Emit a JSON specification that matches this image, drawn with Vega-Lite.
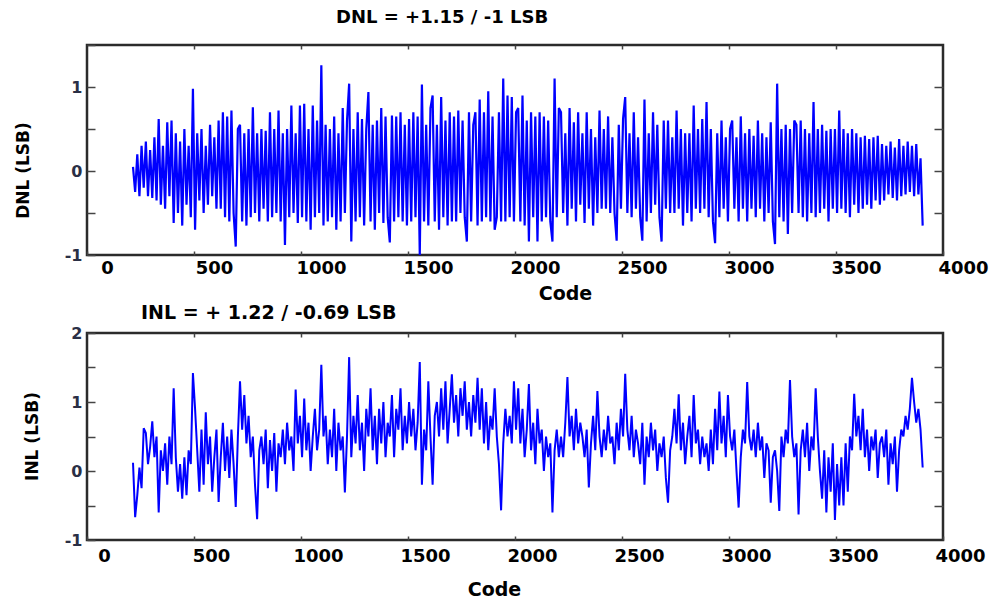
{
"$schema": "https://vega.github.io/schema/vega-lite/v6.json",
"padding": {"left": 12, "top": 8, "right": 4, "bottom": 0},
"spacing": -3,
"config": {
  "font": "DejaVu Sans",
  "view": {"stroke": "#2b2b2b", "strokeWidth": 2.5},
  "axis": {"grid": false, "domain": false, "minExtent": 0, "tickColor": "#444", "tickWidth": 1.5, "labelFont": "DejaVu Sans", "labelFontWeight": "bold", "labelColor": "#000", "titleFont": "DejaVu Sans", "titleFontWeight": "bold", "titleColor": "#000"},
  "title": {"font": "DejaVu Sans", "fontWeight": "bold", "color": "#000"}
},
"datasets": {"adc": [
{"c":215,"d":0.05,"i":0.12},{"c":225,"d":-0.25,"i":-0.67},{"c":235,"d":0.2,"i":-0.35},{"c":245,"d":-0.3,"i":0.05},{"c":255,"d":0.3,"i":-0.25},{"c":265,"d":-0.2,"i":0.62},{"c":275,"d":0.35,"i":0.55},{"c":285,"d":-0.3,"i":0.1},{"c":295,"d":0.25,"i":0.35},{"c":305,"d":-0.32,"i":0.72},
{"c":315,"d":0.4,"i":0.2},{"c":325,"d":-0.35,"i":0.5},{"c":335,"d":0.62,"i":-0.6},{"c":345,"d":-0.4,"i":0.3},{"c":355,"d":0.3,"i":0.0},{"c":365,"d":-0.45,"i":0.4},{"c":375,"d":0.58,"i":-0.2},{"c":385,"d":-0.3,"i":0.5},{"c":395,"d":0.6,"i":0.1},{"c":405,"d":-0.62,"i":1.2},
{"c":415,"d":0.45,"i":0.2},{"c":425,"d":-0.5,"i":-0.3},{"c":435,"d":0.35,"i":0.1},{"c":445,"d":-0.65,"i":-0.4},{"c":455,"d":0.5,"i":0.2},{"c":465,"d":-0.4,"i":-0.35},{"c":475,"d":0.3,"i":0.3},{"c":485,"d":-0.55,"i":0.1},{"c":495,"d":0.98,"i":1.42},{"c":505,"d":-0.7,"i":0.9},
{"c":515,"d":0.45,"i":0.3},{"c":525,"d":-0.35,"i":-0.3},{"c":535,"d":0.5,"i":0.6},{"c":545,"d":-0.5,"i":-0.2},{"c":555,"d":0.3,"i":0.85},{"c":565,"d":-0.4,"i":0.1},{"c":575,"d":0.55,"i":0.5},{"c":585,"d":-0.3,"i":-0.3},{"c":595,"d":0.4,"i":0.2},{"c":605,"d":-0.45,"i":0.6},
{"c":615,"d":0.6,"i":-0.45},{"c":625,"d":-0.45,"i":0.2},{"c":635,"d":0.7,"i":0.7},{"c":645,"d":-0.55,"i":0.0},{"c":655,"d":0.65,"i":0.5},{"c":665,"d":-0.6,"i":-0.1},{"c":675,"d":0.72,"i":0.6},{"c":685,"d":-0.5,"i":0.1},{"c":695,"d":-0.9,"i":-0.52},{"c":705,"d":0.5,"i":0.5},
{"c":715,"d":0.55,"i":1.3},{"c":725,"d":-0.6,"i":0.6},{"c":735,"d":0.45,"i":1.1},{"c":745,"d":-0.65,"i":0.4},{"c":755,"d":0.5,"i":0.8},{"c":765,"d":-0.55,"i":0.2},{"c":775,"d":0.76,"i":0.5},{"c":785,"d":-0.5,"i":-0.2},{"c":795,"d":0.45,"i":-0.7},{"c":805,"d":-0.6,"i":0.3},
{"c":815,"d":0.5,"i":0.5},{"c":825,"d":-0.45,"i":0.1},{"c":835,"d":0.48,"i":0.6},{"c":845,"d":-0.6,"i":-0.25},{"c":855,"d":0.7,"i":0.45},{"c":865,"d":-0.55,"i":0.0},{"c":875,"d":0.5,"i":0.55},{"c":885,"d":-0.5,"i":-0.3},{"c":895,"d":0.72,"i":0.4},{"c":905,"d":-0.6,"i":0.2},
{"c":915,"d":0.45,"i":0.6},{"c":925,"d":-0.88,"i":0.1},{"c":935,"d":0.5,"i":0.7},{"c":945,"d":-0.55,"i":0.3},{"c":955,"d":0.78,"i":0.5},{"c":965,"d":-0.5,"i":0.0},{"c":975,"d":0.45,"i":1.18},{"c":985,"d":-0.62,"i":0.4},{"c":995,"d":0.78,"i":0.8},{"c":1005,"d":-0.55,"i":0.2},
{"c":1015,"d":0.8,"i":1.05},{"c":1025,"d":-0.6,"i":0.3},{"c":1035,"d":0.5,"i":0.7},{"c":1045,"d":-0.7,"i":0.0},{"c":1055,"d":0.78,"i":0.5},{"c":1065,"d":-0.55,"i":0.9},{"c":1075,"d":0.6,"i":0.3},{"c":1085,"d":-0.5,"i":0.6},{"c":1095,"d":1.26,"i":1.54},{"c":1105,"d":-0.65,"i":0.5},
{"c":1115,"d":0.55,"i":0.8},{"c":1125,"d":-0.6,"i":0.1},{"c":1135,"d":0.5,"i":0.6},{"c":1145,"d":-0.55,"i":0.2},{"c":1155,"d":0.65,"i":0.9},{"c":1165,"d":-0.7,"i":0.0},{"c":1175,"d":0.45,"i":0.7},{"c":1185,"d":-0.6,"i":0.3},{"c":1195,"d":0.75,"i":0.5},{"c":1205,"d":-0.5,"i":-0.31},
{"c":1215,"d":0.6,"i":0.5},{"c":1225,"d":1.04,"i":1.65},{"c":1235,"d":-0.84,"i":0.2},{"c":1245,"d":0.5,"i":0.8},{"c":1255,"d":-0.6,"i":0.4},{"c":1265,"d":0.7,"i":1.1},{"c":1275,"d":-0.55,"i":0.3},{"c":1285,"d":0.62,"i":0.7},{"c":1295,"d":-0.65,"i":0.0},{"c":1305,"d":0.5,"i":0.9},
{"c":1315,"d":0.94,"i":0.5},{"c":1325,"d":-0.6,"i":1.2},{"c":1335,"d":0.55,"i":0.3},{"c":1345,"d":-0.7,"i":0.8},{"c":1355,"d":0.6,"i":0.1},{"c":1365,"d":-0.5,"i":0.9},{"c":1375,"d":0.75,"i":0.4},{"c":1385,"d":-0.62,"i":1.0},{"c":1395,"d":0.65,"i":0.2},{"c":1405,"d":-0.55,"i":0.7},
{"c":1415,"d":-0.85,"i":0.5},{"c":1425,"d":0.66,"i":1.1},{"c":1435,"d":-0.6,"i":0.2},{"c":1445,"d":0.65,"i":0.9},{"c":1455,"d":-0.55,"i":0.6},{"c":1465,"d":0.7,"i":1.2},{"c":1475,"d":-0.6,"i":0.3},{"c":1485,"d":0.55,"i":0.8},{"c":1495,"d":-0.65,"i":0.4},{"c":1505,"d":0.62,"i":1.0},
{"c":1515,"d":-0.6,"i":0.5},{"c":1525,"d":0.7,"i":0.9},{"c":1535,"d":-0.55,"i":0.3},{"c":1545,"d":0.65,"i":0.7},{"c":1555,"d":-1.0,"i":1.58},{"c":1565,"d":1.03,"i":-0.2},{"c":1575,"d":-0.6,"i":0.6},{"c":1585,"d":0.55,"i":0.3},{"c":1595,"d":-0.65,"i":1.3},{"c":1605,"d":0.75,"i":0.5},
{"c":1615,"d":0.9,"i":-0.2},{"c":1625,"d":-0.6,"i":0.8},{"c":1635,"d":0.55,"i":1.0},{"c":1645,"d":-0.7,"i":0.5},{"c":1655,"d":0.88,"i":1.2},{"c":1665,"d":-0.55,"i":0.6},{"c":1675,"d":0.6,"i":1.3},{"c":1685,"d":-0.65,"i":0.4},{"c":1695,"d":0.7,"i":0.9},{"c":1705,"d":-0.6,"i":1.4},
{"c":1715,"d":0.65,"i":0.7},{"c":1725,"d":-0.6,"i":1.1},{"c":1735,"d":0.72,"i":0.5},{"c":1745,"d":-0.5,"i":1.2},{"c":1755,"d":0.6,"i":0.8},{"c":1765,"d":-0.55,"i":1.3},{"c":1775,"d":-0.84,"i":0.6},{"c":1785,"d":0.7,"i":1.0},{"c":1795,"d":-0.6,"i":0.5},{"c":1805,"d":0.55,"i":1.1},
{"c":1815,"d":0.7,"i":0.7},{"c":1825,"d":-0.65,"i":1.35},{"c":1835,"d":0.85,"i":0.6},{"c":1845,"d":-0.6,"i":1.2},{"c":1855,"d":0.7,"i":0.4},{"c":1865,"d":-0.55,"i":1.0},{"c":1875,"d":0.95,"i":0.3},{"c":1885,"d":-0.6,"i":0.8},{"c":1895,"d":0.65,"i":0.6},{"c":1905,"d":-0.7,"i":1.2},
{"c":1915,"d":-0.55,"i":0.5},{"c":1925,"d":0.7,"i":0.1},{"c":1935,"d":-0.6,"i":-0.57},{"c":1945,"d":1.1,"i":0.4},{"c":1955,"d":-0.6,"i":0.9},{"c":1965,"d":0.9,"i":0.5},{"c":1975,"d":-0.55,"i":0.8},{"c":1985,"d":0.88,"i":0.4},{"c":1995,"d":-0.6,"i":1.3},{"c":2005,"d":0.7,"i":0.6},
{"c":2015,"d":0.75,"i":1.2},{"c":2025,"d":-0.6,"i":0.4},{"c":2035,"d":0.9,"i":0.9},{"c":2045,"d":-0.65,"i":0.2},{"c":2055,"d":0.6,"i":0.6},{"c":2065,"d":-0.84,"i":1.26},{"c":2075,"d":0.7,"i":0.3},{"c":2085,"d":-0.55,"i":0.7},{"c":2095,"d":0.65,"i":0.1},{"c":2105,"d":-0.84,"i":0.9},
{"c":2115,"d":0.7,"i":0.4},{"c":2125,"d":-0.6,"i":0.6},{"c":2135,"d":0.65,"i":0.0},{"c":2145,"d":-0.55,"i":0.5},{"c":2155,"d":0.6,"i":0.2},{"c":2165,"d":-0.6,"i":0.4},{"c":2175,"d":-0.84,"i":-0.6},{"c":2185,"d":1.1,"i":0.3},{"c":2195,"d":-0.55,"i":0.6},{"c":2205,"d":0.75,"i":0.2},
{"c":2215,"d":0.7,"i":0.5},{"c":2225,"d":-0.5,"i":0.2},{"c":2235,"d":0.45,"i":0.7},{"c":2245,"d":-0.65,"i":1.36},{"c":2255,"d":0.75,"i":0.5},{"c":2265,"d":-0.45,"i":0.8},{"c":2275,"d":0.58,"i":0.3},{"c":2285,"d":-0.6,"i":0.9},{"c":2295,"d":0.7,"i":0.4},{"c":2305,"d":-0.4,"i":0.7},
{"c":2315,"d":0.45,"i":0.5},{"c":2325,"d":-0.62,"i":0.2},{"c":2335,"d":0.7,"i":0.6},{"c":2345,"d":-0.45,"i":-0.24},{"c":2355,"d":0.5,"i":0.4},{"c":2365,"d":-0.65,"i":0.8},{"c":2375,"d":0.4,"i":0.3},{"c":2385,"d":-0.5,"i":1.16},{"c":2395,"d":0.72,"i":0.5},{"c":2405,"d":-0.45,"i":0.2},
{"c":2415,"d":0.5,"i":0.6},{"c":2425,"d":-0.45,"i":0.3},{"c":2435,"d":0.65,"i":0.8},{"c":2445,"d":-0.5,"i":0.4},{"c":2455,"d":0.4,"i":0.5},{"c":2465,"d":-0.5,"i":0.1},{"c":2475,"d":-0.83,"i":0.7},{"c":2485,"d":0.55,"i":0.3},{"c":2495,"d":-0.45,"i":0.9},{"c":2505,"d":0.62,"i":0.5},
{"c":2515,"d":0.88,"i":1.41},{"c":2525,"d":-0.5,"i":0.6},{"c":2535,"d":0.45,"i":0.3},{"c":2545,"d":-0.55,"i":0.8},{"c":2555,"d":0.7,"i":0.2},{"c":2565,"d":-0.45,"i":0.6},{"c":2575,"d":0.4,"i":0.4},{"c":2585,"d":-0.55,"i":0.1},{"c":2595,"d":-0.83,"i":0.7},{"c":2605,"d":0.85,"i":-0.2},
{"c":2615,"d":-0.6,"i":0.5},{"c":2625,"d":0.45,"i":0.2},{"c":2635,"d":-0.5,"i":0.7},{"c":2645,"d":0.7,"i":0.3},{"c":2655,"d":-0.4,"i":0.6},{"c":2665,"d":0.55,"i":0.0},{"c":2675,"d":-0.55,"i":0.4},{"c":2685,"d":-0.84,"i":0.2},{"c":2695,"d":0.6,"i":0.5},{"c":2705,"d":-0.45,"i":-0.1},
{"c":2715,"d":0.6,"i":-0.46},{"c":2725,"d":-0.5,"i":0.3},{"c":2735,"d":0.4,"i":0.5},{"c":2745,"d":-0.5,"i":0.9},{"c":2755,"d":0.72,"i":0.4},{"c":2765,"d":-0.45,"i":1.11},{"c":2775,"d":0.5,"i":0.3},{"c":2785,"d":-0.65,"i":0.7},{"c":2795,"d":0.45,"i":0.1},{"c":2805,"d":-0.5,"i":0.5},
{"c":2815,"d":0.45,"i":0.8},{"c":2825,"d":-0.6,"i":0.2},{"c":2835,"d":0.78,"i":1.1},{"c":2845,"d":-0.45,"i":0.4},{"c":2855,"d":0.5,"i":0.6},{"c":2865,"d":-0.5,"i":0.1},{"c":2875,"d":0.62,"i":0.5},{"c":2885,"d":-0.45,"i":0.2},{"c":2895,"d":0.82,"i":0.4},{"c":2905,"d":-0.55,"i":0.0},
{"c":2915,"d":0.5,"i":0.6},{"c":2925,"d":-0.6,"i":0.1},{"c":2935,"d":-0.86,"i":0.9},{"c":2945,"d":0.45,"i":0.3},{"c":2955,"d":-0.55,"i":1.15},{"c":2965,"d":0.6,"i":0.4},{"c":2975,"d":-0.45,"i":0.8},{"c":2985,"d":0.4,"i":0.2},{"c":2995,"d":-0.6,"i":1.1},{"c":3005,"d":0.5,"i":0.5},
{"c":3015,"d":0.6,"i":0.3},{"c":3025,"d":-0.45,"i":0.6},{"c":3035,"d":0.4,"i":0.0},{"c":3045,"d":-0.6,"i":-0.53},{"c":3055,"d":0.65,"i":0.2},{"c":3065,"d":-0.45,"i":0.6},{"c":3075,"d":0.45,"i":0.4},{"c":3085,"d":-0.6,"i":1.29},{"c":3095,"d":0.5,"i":0.5},{"c":3105,"d":-0.45,"i":0.3},
{"c":3115,"d":0.42,"i":0.6},{"c":3125,"d":-0.55,"i":0.2},{"c":3135,"d":0.6,"i":0.7},{"c":3145,"d":-0.45,"i":0.3},{"c":3155,"d":0.45,"i":0.5},{"c":3165,"d":-0.6,"i":-0.1},{"c":3175,"d":0.4,"i":0.4},{"c":3185,"d":-0.5,"i":0.3},{"c":3195,"d":0.58,"i":-0.46},{"c":3205,"d":-0.6,"i":0.2},
{"c":3215,"d":-0.87,"i":0.3},{"c":3225,"d":1.04,"i":0.0},{"c":3235,"d":-0.55,"i":-0.58},{"c":3245,"d":0.5,"i":0.5},{"c":3255,"d":-0.6,"i":0.2},{"c":3265,"d":0.55,"i":0.6},{"c":3275,"d":-0.75,"i":0.4},{"c":3285,"d":0.5,"i":1.32},{"c":3295,"d":-0.5,"i":0.5},{"c":3305,"d":0.6,"i":0.2},
{"c":3315,"d":0.55,"i":0.4},{"c":3325,"d":-0.5,"i":-0.63},{"c":3335,"d":0.6,"i":0.3},{"c":3345,"d":-0.55,"i":0.6},{"c":3355,"d":0.5,"i":0.2},{"c":3365,"d":-0.6,"i":0.7},{"c":3375,"d":0.45,"i":0.0},{"c":3385,"d":-0.5,"i":0.5},{"c":3395,"d":0.82,"i":0.3},{"c":3405,"d":-0.55,"i":1.2},
{"c":3415,"d":0.5,"i":0.5},{"c":3425,"d":-0.5,"i":0.0},{"c":3435,"d":0.55,"i":-0.4},{"c":3445,"d":-0.45,"i":0.3},{"c":3455,"d":0.48,"i":-0.6},{"c":3465,"d":-0.6,"i":0.2},{"c":3475,"d":0.5,"i":-0.3},{"c":3485,"d":-0.45,"i":0.4},{"c":3495,"d":0.5,"i":-0.71},{"c":3505,"d":-0.5,"i":0.1},
{"c":3515,"d":0.72,"i":-0.5},{"c":3525,"d":-0.45,"i":0.2},{"c":3535,"d":0.5,"i":-0.5},{"c":3545,"d":-0.5,"i":0.4},{"c":3555,"d":0.45,"i":-0.3},{"c":3565,"d":-0.55,"i":0.5},{"c":3575,"d":0.5,"i":0.3},{"c":3585,"d":-0.4,"i":1.12},{"c":3595,"d":0.45,"i":0.5},{"c":3605,"d":-0.5,"i":0.8},
{"c":3615,"d":0.4,"i":0.3},{"c":3625,"d":-0.45,"i":0.9},{"c":3635,"d":0.42,"i":0.2},{"c":3645,"d":-0.4,"i":0.6},{"c":3655,"d":0.38,"i":0.0},{"c":3665,"d":-0.45,"i":0.5},{"c":3675,"d":0.4,"i":0.3},{"c":3685,"d":-0.35,"i":0.6},{"c":3695,"d":0.42,"i":-0.1},{"c":3705,"d":-0.4,"i":0.4},
{"c":3715,"d":0.32,"i":0.5},{"c":3725,"d":-0.35,"i":0.2},{"c":3735,"d":0.3,"i":0.6},{"c":3745,"d":-0.28,"i":-0.2},{"c":3755,"d":0.35,"i":0.4},{"c":3765,"d":-0.32,"i":0.1},{"c":3775,"d":0.28,"i":0.5},{"c":3785,"d":-0.35,"i":-0.3},{"c":3795,"d":0.38,"i":0.3},{"c":3805,"d":-0.3,"i":0.6},
{"c":3815,"d":0.3,"i":0.5},{"c":3825,"d":-0.28,"i":0.8},{"c":3835,"d":0.35,"i":0.6},{"c":3845,"d":-0.25,"i":0.9},{"c":3855,"d":0.3,"i":1.35},{"c":3865,"d":-0.3,"i":1.0},{"c":3875,"d":0.32,"i":0.7},{"c":3885,"d":-0.28,"i":0.9},{"c":3895,"d":0.15,"i":0.6},{"c":3905,"d":-0.65,"i":0.05}
]},
"vconcat": [
{
  "width": 856, "height": 210,
  "data": {"name": "adc"},
  "title": {"text": "DNL = +1.15 / -1 LSB", "anchor": "start", "frame": "group", "dx": 249, "offset": 3, "baseline": "alphabetic", "fontSize": 18},
  "layer": [
    {"mark": {"type": "line", "color": "#0000ff", "strokeWidth": 2.2},
     "encoding": {
       "x": {"field": "c", "type": "quantitative", "scale": {"domain": [0, 4000], "nice": false, "zero": false},
             "axis": {"orient": "bottom", "values": [0,500,1000,1500,2000,2500,3000,3500,4000], "format": "d", "tickSize": -4, "labelPadding": 8, "labelOffset": 20, "labelFontSize": 18, "labelFlush": false, "title": "Code", "titleFontSize": 19, "titleX": 478, "titlePadding": 7}},
       "y": {"field": "d", "type": "quantitative", "scale": {"domain": [-1, 1.5], "nice": false, "zero": false},
             "axis": {"orient": "left", "values": [-1,-0.5,0,0.5,1,1.5], "labelExpr": "datum.value % 1 === 0 ? '' + datum.value : ''", "tickSize": -8, "labelPadding": 13, "labelFontSize": 16, "labelColor": "#2a2f45", "title": "DNL (LSB)", "titleFontSize": 17, "titleX": -64, "titleY": 125, "titleBaseline": "middle"}}
     }},
    {"mark": {"type": "line", "opacity": 0},
     "encoding": {
       "x": {"field": "c", "type": "quantitative", "axis": {"orient": "top", "values": [500,1000,1500,2000,2500,3000,3500], "tickSize": -4, "labels": false, "title": null, "maxExtent": 0}},
       "y": {"field": "d", "type": "quantitative", "axis": {"orient": "right", "values": [-0.5,0,0.5,1], "tickSize": -9, "labels": false, "title": null, "maxExtent": 0}}
     }}
  ],
  "resolve": {"axis": {"x": "independent", "y": "independent"}}
},
{
  "width": 856, "height": 207,
  "data": {"name": "adc"},
  "title": {"text": "INL = + 1.22 / -0.69 LSB", "anchor": "start", "frame": "group", "dx": 54, "offset": -13, "baseline": "alphabetic", "fontSize": 19},
  "layer": [
    {"mark": {"type": "line", "color": "#0000ff", "strokeWidth": 2},
     "encoding": {
       "x": {"field": "c", "type": "quantitative", "scale": {"domain": [0, 4000], "nice": false, "zero": false},
             "axis": {"orient": "bottom", "values": [0,500,1000,1500,2000,2500,3000,3500,4000], "format": "d", "tickSize": -4, "labelPadding": 11, "labelOffset": 17, "labelFontSize": 18, "labelFlush": false, "title": "Code", "titleFontSize": 19, "titleX": 407, "titlePadding": 15}},
       "y": {"field": "i", "type": "quantitative", "scale": {"domain": [-1, 2], "nice": false, "zero": false},
             "axis": {"orient": "left", "values": [-1,-0.5,0,0.5,1,1.5,2], "labelExpr": "datum.value % 1 === 0 ? '' + datum.value : ''", "tickSize": -8, "labelPadding": 13, "labelFontSize": 16, "labelColor": "#2a2f45", "title": "INL (LSB)", "titleFontSize": 17, "titleX": -55, "titleY": 103, "titleBaseline": "middle"}}
     }},
    {"mark": {"type": "line", "opacity": 0},
     "encoding": {
       "x": {"field": "c", "type": "quantitative", "axis": {"orient": "top", "values": [500,1000,1500,2000,2500,3000,3500], "tickSize": -4, "labels": false, "title": null, "maxExtent": 0}},
       "y": {"field": "i", "type": "quantitative", "axis": {"orient": "right", "values": [-0.5,0,0.5,1,1.5], "tickSize": -9, "labels": false, "title": null, "maxExtent": 0}}
     }}
  ],
  "resolve": {"axis": {"x": "independent", "y": "independent"}}
}
]
}
